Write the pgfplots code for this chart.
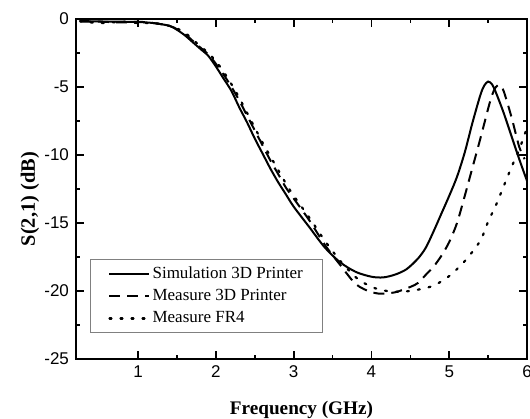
\documentclass[border=0pt]{standalone}
\usepackage{fontspec}
\setmainfont{Liberation Serif}
\newfontfamily\arialfont{Liberation Sans}
\usepackage{pgfplots}
\pgfplotsset{compat=1.18}

\pgfplotstableread{
f     s
0.25  -0.15
0.5   -0.18
0.8   -0.2
1.0   -0.22
1.2   -0.3
1.4   -0.5
1.5   -0.8
1.6   -1.2
1.7   -1.7
1.8   -2.2
1.9   -2.7
2.0   -3.5
2.1   -4.4
2.2   -5.3
2.3   -6.5
2.4   -7.6
2.5   -8.8
2.6   -9.9
2.7   -11.0
2.8   -12.0
2.9   -12.9
3.0   -13.8
3.2   -15.3
3.4   -16.8
3.6   -17.9
3.8   -18.6
4.0   -18.95
4.15  -19.0
4.3   -18.8
4.45  -18.4
4.6   -17.6
4.7   -16.8
4.8   -15.6
4.9   -14.3
5.0   -13.0
5.1   -11.6
5.2   -9.8
5.3   -7.6
5.4   -5.6
5.45  -4.9
5.5   -4.6
5.55  -4.8
5.6   -5.4
5.7   -6.9
5.8   -8.6
5.9   -10.3
6.0   -11.9
}\simprinter

\pgfplotstableread{
f     s
0.25  -0.2
0.5   -0.2
0.8   -0.25
1.0   -0.2
1.2   -0.3
1.4   -0.5
1.5   -0.75
1.6   -1.1
1.7   -1.6
1.8   -2.1
1.9   -2.6
2.0   -3.3
2.1   -4.1
2.2   -5.0
2.3   -6.0
2.4   -7.1
2.5   -8.2
2.6   -9.3
2.7   -10.4
2.8   -11.4
2.9   -12.4
3.0   -13.2
3.2   -14.8
3.4   -16.6
3.6   -18.1
3.8   -19.5
4.0   -20.1
4.1   -20.2
4.3   -20.1
4.5   -19.7
4.6   -19.4
4.7   -18.8
4.8   -18.2
4.9   -17.4
5.0   -16.4
5.1   -15.0
5.2   -13.0
5.3   -10.9
5.4   -8.8
5.5   -6.6
5.55  -5.6
5.6   -5.0
5.65  -4.85
5.7   -5.3
5.8   -7.2
5.9   -9.4
5.97  -10.3
}\measprinter

\pgfplotstableread{
f     s
0.25  -0.15
0.5   -0.3
0.8   -0.2
1.0   -0.3
1.2   -0.3
1.4   -0.5
1.5   -0.7
1.6   -1.0
1.7   -1.5
1.8   -2.0
1.9   -2.5
2.0   -3.1
2.1   -3.9
2.2   -4.8
2.3   -5.8
2.4   -6.9
2.5   -8.0
2.6   -9.1
2.7   -10.1
2.8   -11.1
2.9   -12.1
3.0   -13.0
3.2   -14.6
3.4   -16.3
3.6   -17.8
3.8   -19.0
4.0   -19.7
4.2   -20.0
4.4   -20.05
4.6   -19.9
4.8   -19.6
5.0   -18.9
5.2   -17.8
5.4   -16.3
5.5   -14.9
5.6   -13.7
5.7   -12.3
5.8   -10.9
5.9   -9.6
6.0   -8.0
}\measfr

\begin{document}
\begin{tikzpicture}
\useasboundingbox (-38pt,-29.5pt) rectangle (227pt,179.5pt);
\begin{axis}[
    at={(0pt,0pt)}, anchor=south west,
    scale only axis,
    width=225.5pt, height=170pt,
    xmin=0.2, xmax=6,
    ymin=-25, ymax=0,
    xtick={1,2,3,4,5,6},
    ytick={0,-5,-10,-15,-20,-25},
    minor x tick num=1,
    minor y tick num=1,
    tick align=inside,
    major tick length=4pt,
    minor tick length=2pt,
    every tick/.style={black, line width=0.8pt},
    axis line style={line width=1pt},
    /pgf/number format/assume math mode=true,
    tick label style={font=\arialfont\fontsize{8.5}{10}\selectfont},
    xlabel={Frequency (GHz)},
    ylabel={S(2,1) (dB)},
    xlabel style={font=\bfseries\fontsize{9.6}{11}\selectfont,
        at={(axis description cs:0.5,0)}, anchor=center, yshift=-25.5pt},
    ylabel style={font=\bfseries\fontsize{10.2}{12}\selectfont,
        at={(axis description cs:0,0.47)}, anchor=center, yshift=23pt},
    legend cell align=left,
    legend style={
        at={(axis description cs:0.031,0.0765)}, anchor=south west,
        draw=gray, line width=0.4pt,
        font=\fontsize{8.5}{10}\selectfont,
        inner xsep=9pt, inner ysep=1.5pt,
        nodes={inner xsep=1pt},
        row sep=0pt,
    },
    legend image code/.code={\draw[#1] (0pt,0pt) -- (20pt,0pt);},
]
\addplot[black, line width=1pt, smooth] table[x=f, y=s] {\simprinter};
\addplot[black, line width=1pt, smooth, dash pattern=on 5.5pt off 3.5pt] table[x=f, y=s] {\measprinter};
\addplot[black, line width=1.1pt, smooth, dash pattern=on 1pt off 4.5pt, line cap=round] table[x=f, y=s] {\measfr};
\legend{Simulation 3D Printer, Measure 3D Printer, Measure FR4}
\end{axis}
\end{tikzpicture}
\end{document}
